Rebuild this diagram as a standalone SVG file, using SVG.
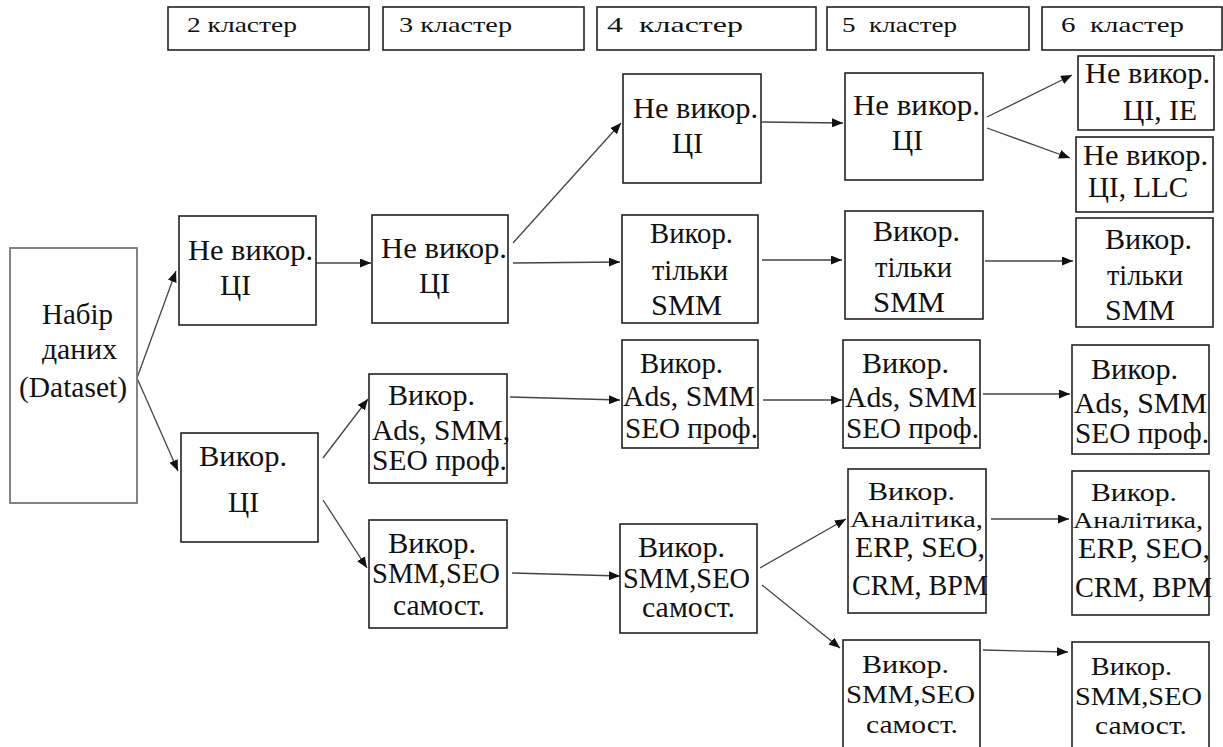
<svg xmlns="http://www.w3.org/2000/svg" width="1223" height="747" viewBox="0 0 1223 747">
<style>
.box{fill:#fff;stroke:#222;stroke-width:1.6}
.ds{fill:#fff;stroke:#777;stroke-width:1.8}
.t{font-family:'Liberation Serif','DejaVu Serif','Times New Roman',serif;font-size:29px;fill:#111}
.s{font-size:26px}
.a{font-size:23px}
.h{font-family:'Liberation Serif','DejaVu Serif','Times New Roman',serif;font-size:22px;fill:#111}
.c{fill:none;stroke:#444;stroke-width:1.3}
</style>
<defs>
<marker id="arr" markerUnits="userSpaceOnUse" markerWidth="11" markerHeight="9" refX="11" refY="4.5" orient="auto">
<path d="M0,0 L11,4.5 L0,9 z" fill="#111"/>
</marker>
</defs>
<g id="headers">
<rect class="box" x="168" y="7" width="201" height="43"/>
<text class="h" x="187" y="32" textLength="110" lengthAdjust="spacingAndGlyphs">2 кластер</text>
<rect class="box" x="383" y="7" width="201" height="43"/>
<text class="h" x="399" y="32" textLength="113" lengthAdjust="spacingAndGlyphs">3 кластер</text>
<rect class="box" x="597" y="7" width="219" height="43"/>
<text class="h" x="607" y="32" textLength="136" lengthAdjust="spacingAndGlyphs" xml:space="preserve">4  кластер</text>
<rect class="box" x="827" y="7" width="202" height="43"/>
<text class="h" x="842" y="32" textLength="115" lengthAdjust="spacingAndGlyphs" xml:space="preserve">5  кластер</text>
<rect class="box" x="1042" y="7" width="180" height="43"/>
<text class="h" x="1061" y="32" textLength="123" lengthAdjust="spacingAndGlyphs" xml:space="preserve">6  кластер</text>
</g>
<g id="connectors">
<path class="c" marker-end="url(#arr)" d="M137,378 L176,271"/>
<path class="c" marker-end="url(#arr)" d="M137,378 L178,471"/>
<path class="c" marker-end="url(#arr)" d="M316,263 L371,263"/>
<path class="c" marker-end="url(#arr)" d="M323,458 L368,399"/>
<path class="c" marker-end="url(#arr)" d="M323,500 L367,568"/>
<path class="c" marker-end="url(#arr)" d="M513,243 L621,123"/>
<path class="c" marker-end="url(#arr)" d="M513,263 L620,262"/>
<path class="c" marker-end="url(#arr)" d="M510,397 L620,400"/>
<path class="c" marker-end="url(#arr)" d="M512,573 L620,576"/>
<path class="c" marker-end="url(#arr)" d="M762,122 L843,123"/>
<path class="c" marker-end="url(#arr)" d="M762,260 L842,260"/>
<path class="c" marker-end="url(#arr)" d="M763,400 L842,400"/>
<path class="c" marker-end="url(#arr)" d="M760,568 L846,519"/>
<path class="c" marker-end="url(#arr)" d="M762,585 L840,648"/>
<path class="c" marker-end="url(#arr)" d="M987,117 L1072,75"/>
<path class="c" marker-end="url(#arr)" d="M987,128 L1070,158"/>
<path class="c" marker-end="url(#arr)" d="M985,261 L1073,261"/>
<path class="c" marker-end="url(#arr)" d="M983,394 L1070,394"/>
<path class="c" marker-end="url(#arr)" d="M991,519 L1069,519"/>
<path class="c" marker-end="url(#arr)" d="M983,650 L1068,652"/>
</g>
<g id="n0">
<rect class="ds" x="10" y="248" width="127" height="255"/>
<text class="t" x="42" y="324" textLength="71" lengthAdjust="spacingAndGlyphs">Набір</text>
<text class="t" x="42" y="359" textLength="75" lengthAdjust="spacingAndGlyphs">даних</text>
<text class="t" x="19" y="397" textLength="108" lengthAdjust="spacingAndGlyphs">(Dataset)</text>
</g>
<g id="n1">
<rect class="box" x="179" y="216" width="137" height="109"/>
<text class="t" x="188" y="260" textLength="125" lengthAdjust="spacingAndGlyphs">Не викор.</text>
<text class="t" x="220" y="295" textLength="31" lengthAdjust="spacingAndGlyphs">ЦІ</text>
</g>
<g id="n2">
<rect class="box" x="181" y="433" width="137" height="109"/>
<text class="t" x="199" y="466" textLength="88" lengthAdjust="spacingAndGlyphs">Викор.</text>
<text class="t" x="228" y="512" textLength="31" lengthAdjust="spacingAndGlyphs">ЦІ</text>
</g>
<g id="n3">
<rect class="box" x="372" y="215" width="136" height="108"/>
<text class="t" x="381" y="258" textLength="126" lengthAdjust="spacingAndGlyphs">Не викор.</text>
<text class="t" x="419" y="293" textLength="31" lengthAdjust="spacingAndGlyphs">ЦІ</text>
</g>
<g id="n4">
<rect class="box" x="369" y="374" width="138" height="109"/>
<text class="t" x="388" y="405" textLength="87" lengthAdjust="spacingAndGlyphs">Викор.</text>
<text class="t" x="372" y="440" textLength="138" lengthAdjust="spacingAndGlyphs">Ads, SMM,</text>
<text class="t" x="372" y="470" textLength="135" lengthAdjust="spacingAndGlyphs">SEO проф.</text>
</g>
<g id="n5">
<rect class="box" x="369" y="520" width="138" height="108"/>
<text class="t" x="388" y="553" textLength="88" lengthAdjust="spacingAndGlyphs">Викор.</text>
<text class="t" x="372" y="583" textLength="128" lengthAdjust="spacingAndGlyphs">SMM,SEO</text>
<text class="t" x="393" y="615" textLength="92" lengthAdjust="spacingAndGlyphs">самост.</text>
</g>
<g id="n6">
<rect class="box" x="623" y="74" width="138" height="109"/>
<text class="t" x="633" y="118" textLength="125" lengthAdjust="spacingAndGlyphs">Не викор.</text>
<text class="t" x="672" y="153" textLength="31" lengthAdjust="spacingAndGlyphs">ЦІ</text>
</g>
<g id="n7">
<rect class="box" x="622" y="215" width="136" height="108"/>
<text class="t" x="650" y="243" textLength="83" lengthAdjust="spacingAndGlyphs">Викор.</text>
<text class="t" x="652" y="280" textLength="76" lengthAdjust="spacingAndGlyphs">тільки</text>
<text class="t" x="651" y="315" textLength="71" lengthAdjust="spacingAndGlyphs">SMM</text>
</g>
<g id="n8">
<rect class="box" x="622" y="340" width="136" height="108"/>
<text class="t" x="640" y="373" textLength="83" lengthAdjust="spacingAndGlyphs">Викор.</text>
<text class="t" x="623" y="406" textLength="132" lengthAdjust="spacingAndGlyphs">Ads, SMM</text>
<text class="t" x="625" y="438" textLength="133" lengthAdjust="spacingAndGlyphs">SEO проф.</text>
</g>
<g id="n9">
<rect class="box" x="620" y="524" width="137" height="109"/>
<text class="t" x="638" y="557" textLength="87" lengthAdjust="spacingAndGlyphs">Викор.</text>
<text class="t" x="623" y="588" textLength="127" lengthAdjust="spacingAndGlyphs">SMM,SEO</text>
<text class="t" x="642" y="617" textLength="93" lengthAdjust="spacingAndGlyphs">самост.</text>
</g>
<g id="n10">
<rect class="box" x="845" y="73" width="138" height="107"/>
<text class="t" x="853" y="115" textLength="127" lengthAdjust="spacingAndGlyphs">Не викор.</text>
<text class="t" x="892" y="150" textLength="31" lengthAdjust="spacingAndGlyphs">ЦІ</text>
</g>
<g id="n11">
<rect class="box" x="845" y="211" width="138" height="108"/>
<text class="t" x="873" y="241" textLength="87" lengthAdjust="spacingAndGlyphs">Викор.</text>
<text class="t" x="875" y="277" textLength="77" lengthAdjust="spacingAndGlyphs">тільки</text>
<text class="t" x="873" y="312" textLength="72" lengthAdjust="spacingAndGlyphs">SMM</text>
</g>
<g id="n12">
<rect class="box" x="843" y="340" width="137" height="108"/>
<text class="t" x="862" y="373" textLength="87" lengthAdjust="spacingAndGlyphs">Викор.</text>
<text class="t" x="845" y="407" textLength="132" lengthAdjust="spacingAndGlyphs">Ads, SMM</text>
<text class="t" x="846" y="438" textLength="133" lengthAdjust="spacingAndGlyphs">SEO проф.</text>
</g>
<g id="n13">
<rect class="box" x="848" y="469" width="138" height="144"/>
<text class="t s" x="868" y="500" textLength="87" lengthAdjust="spacingAndGlyphs">Викор.</text>
<text class="t a" x="850" y="527" textLength="133" lengthAdjust="spacingAndGlyphs">Аналітика,</text>
<text class="t" x="855" y="557" textLength="130" lengthAdjust="spacingAndGlyphs">ERP, SEO,</text>
<text class="t" x="852" y="595" textLength="136" lengthAdjust="spacingAndGlyphs">CRM, BPM</text>
</g>
<g id="n14">
<rect class="box" x="843" y="640" width="137" height="112"/>
<text class="t s" x="862" y="673" textLength="87" lengthAdjust="spacingAndGlyphs">Викор.</text>
<text class="t s" x="846" y="703" textLength="129" lengthAdjust="spacingAndGlyphs">SMM,SEO</text>
<text class="t s" x="866" y="733" textLength="92" lengthAdjust="spacingAndGlyphs">самост.</text>
</g>
<g id="n15">
<rect class="box" x="1078" y="56" width="136" height="74"/>
<text class="t" x="1085" y="83" textLength="125" lengthAdjust="spacingAndGlyphs">Не викор.</text>
<text class="t" x="1123" y="120" textLength="74" lengthAdjust="spacingAndGlyphs">ЦІ, IE</text>
</g>
<g id="n16">
<rect class="box" x="1076" y="137" width="137" height="75"/>
<text class="t" x="1083" y="165" textLength="125" lengthAdjust="spacingAndGlyphs">Не викор.</text>
<text class="t" x="1088" y="197" textLength="100" lengthAdjust="spacingAndGlyphs">ЦІ, LLC</text>
</g>
<g id="n17">
<rect class="box" x="1076" y="218" width="137" height="109"/>
<text class="t" x="1105" y="249" textLength="87" lengthAdjust="spacingAndGlyphs">Викор.</text>
<text class="t" x="1107" y="285" textLength="76" lengthAdjust="spacingAndGlyphs">тільки</text>
<text class="t" x="1105" y="320" textLength="70" lengthAdjust="spacingAndGlyphs">SMM</text>
</g>
<g id="n18">
<rect class="box" x="1072" y="345" width="137" height="109"/>
<text class="t" x="1091" y="379" textLength="87" lengthAdjust="spacingAndGlyphs">Викор.</text>
<text class="t" x="1074" y="413" textLength="133" lengthAdjust="spacingAndGlyphs">Ads, SMM</text>
<text class="t" x="1075" y="443" textLength="134" lengthAdjust="spacingAndGlyphs">SEO проф.</text>
</g>
<g id="n19">
<rect class="box" x="1072" y="471" width="137" height="144"/>
<text class="t s" x="1091" y="501" textLength="86" lengthAdjust="spacingAndGlyphs">Викор.</text>
<text class="t a" x="1073" y="528" textLength="130" lengthAdjust="spacingAndGlyphs">Аналітика,</text>
<text class="t" x="1078" y="558" textLength="132" lengthAdjust="spacingAndGlyphs">ERP, SEO,</text>
<text class="t" x="1075" y="597" textLength="137" lengthAdjust="spacingAndGlyphs">CRM, BPM</text>
</g>
<g id="n20">
<rect class="box" x="1072" y="642" width="137" height="110"/>
<text class="t s" x="1091" y="675" textLength="81" lengthAdjust="spacingAndGlyphs">Викор.</text>
<text class="t s" x="1075" y="705" textLength="127" lengthAdjust="spacingAndGlyphs">SMM,SEO</text>
<text class="t s" x="1095" y="734" textLength="92" lengthAdjust="spacingAndGlyphs">самост.</text>
</g>
</svg>
